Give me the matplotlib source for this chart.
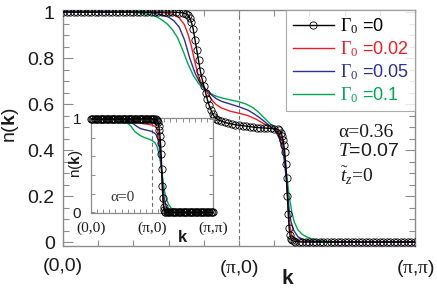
import matplotlib
matplotlib.use("Agg")
import matplotlib.pyplot as plt
from matplotlib.ticker import MultipleLocator

plt.rcParams['font.family'] = ['Liberation Sans', 'DejaVu Sans']
plt.rcParams['mathtext.fontset'] = 'custom'
plt.rcParams['mathtext.rm'] = 'Liberation Serif'
plt.rcParams['mathtext.it'] = 'Liberation Serif:italic'
plt.rcParams['mathtext.bf'] = 'Liberation Sans:bold'
plt.rcParams['mathtext.sf'] = 'Liberation Sans'

# ---------------- main panel data (alpha = 0.36) ----------------
k_black = [0.00, 0.02, 0.04, 0.06, 0.08, 0.10, 0.12, 0.14, 0.16, 0.18,
           0.20, 0.22, 0.24, 0.26, 0.28, 0.30, 0.32, 0.34, 0.36, 0.38,
           0.40, 0.42, 0.44, 0.46, 0.48, 0.50, 0.52, 0.54, 0.56, 0.58,
           0.60, 0.62, 0.64, 0.66, 0.68, 0.70, 0.71, 0.72, 0.73, 0.74,
           0.75, 0.76, 0.77, 0.78, 0.79, 0.80, 0.81, 0.82, 0.83, 0.84,
           0.85, 0.86, 0.87, 0.88, 0.90, 0.92, 0.94, 0.96, 0.98, 1.00,
           1.02, 1.04, 1.06, 1.08, 1.10, 1.12, 1.14, 1.16, 1.18, 1.20,
           1.22, 1.23, 1.24, 1.245, 1.25, 1.255, 1.26, 1.265, 1.27, 1.275,
           1.28, 1.285, 1.29, 1.295, 1.30, 1.31, 1.32, 1.34, 1.36, 1.38,
           1.40, 1.42, 1.44, 1.46, 1.48, 1.50, 1.52, 1.54, 1.56, 1.58,
           1.60, 1.62, 1.64, 1.66, 1.68, 1.70, 1.72, 1.74, 1.76, 1.78,
           1.80, 1.82, 1.84, 1.86, 1.88, 1.90, 1.92, 1.94, 1.96, 1.98, 2.00]
n_black = [1.0, 1.0, 1.0, 1.0, 1.0, 1.0, 1.0, 1.0, 1.0, 1.0,
           1.0, 1.0, 1.0, 1.0, 1.0, 1.0, 1.0, 1.0, 1.0, 1.0,
           1.0, 1.0, 1.0, 1.0, 1.0, 1.0, 1.0, 1.0, 1.0, 1.0,
           1.0, 1.0, 0.999, 0.998, 0.997, 0.993, 0.988, 0.975, 0.955, 0.925,
           0.88, 0.835, 0.79, 0.745, 0.71, 0.68, 0.65, 0.62, 0.595, 0.575,
           0.557, 0.545, 0.537, 0.532, 0.526, 0.52, 0.516, 0.513, 0.51, 0.508,
           0.506, 0.504, 0.502, 0.50, 0.498, 0.497, 0.496, 0.495, 0.494, 0.493,
           0.49, 0.485, 0.475, 0.46, 0.445, 0.42, 0.39, 0.34, 0.28, 0.20,
           0.12, 0.06, 0.03, 0.015, 0.008, 0.004, 0.002, 0.001, 0.0, 0.0,
           0.0, 0.0, 0.0, 0.0, 0.0, 0.0, 0.0, 0.0, 0.0, 0.0,
           0.0, 0.0, 0.0, 0.0, 0.0, 0.0, 0.0, 0.0, 0.0, 0.0,
           0.0, 0.0, 0.0, 0.0, 0.0, 0.0, 0.0, 0.0, 0.0, 0.0, 0.0]

k_red = [0.0, 0.50, 0.55, 0.60, 0.63, 0.66, 0.69, 0.71, 0.73, 0.75, 0.77, 0.79,
         0.81, 0.83, 0.85, 0.87, 0.90, 0.95, 1.00, 1.05, 1.10, 1.14, 1.18,
         1.21, 1.23, 1.245, 1.255, 1.265, 1.27, 1.275, 1.28, 1.285, 1.29,
         1.30, 1.31, 1.33, 1.36, 1.40, 2.0]
n_red = [1.0, 1.0, 0.998, 0.995, 0.988, 0.975, 0.945, 0.905, 0.85, 0.78, 0.72, 0.685,
         0.663, 0.637, 0.614, 0.598, 0.583, 0.569, 0.56, 0.55, 0.533, 0.515, 0.50,
         0.488, 0.47, 0.44, 0.40, 0.33, 0.27, 0.21, 0.15, 0.10, 0.065,
         0.03, 0.015, 0.006, 0.002, 0.0, 0.0]

k_blue = [0.0, 0.45, 0.50, 0.55, 0.60, 0.63, 0.66, 0.69, 0.72, 0.75, 0.78, 0.81,
          0.84, 0.87, 0.90, 0.95, 1.00, 1.05, 1.08, 1.11, 1.14, 1.17, 1.19,
          1.21, 1.23, 1.245, 1.255, 1.265, 1.275, 1.285, 1.295, 1.31, 1.335,
          1.36, 1.39, 1.45, 1.50, 2.0]
n_blue = [1.0, 1.0, 0.997, 0.99, 0.978, 0.962, 0.935, 0.88, 0.80, 0.735, 0.69, 0.665,
          0.642, 0.624, 0.612, 0.60, 0.588, 0.574, 0.56, 0.545, 0.527, 0.508, 0.495,
          0.478, 0.45, 0.41, 0.37, 0.30, 0.22, 0.14, 0.09, 0.052, 0.023,
          0.012, 0.006, 0.002, 0.0, 0.0]

k_green = [0.0, 0.35, 0.40, 0.45, 0.50, 0.53, 0.56, 0.59, 0.62, 0.65, 0.68, 0.71,
           0.74, 0.77, 0.80, 0.83, 0.86, 0.90, 0.95, 1.00, 1.04, 1.08, 1.11,
           1.14, 1.17, 1.20, 1.22, 1.24, 1.255, 1.27, 1.285, 1.30, 1.315,
           1.335, 1.36, 1.385, 1.42, 1.45, 1.50, 1.55, 1.60, 2.0]
n_green = [1.0, 1.0, 0.998, 0.995, 0.988, 0.98, 0.967, 0.95, 0.925, 0.89, 0.835, 0.775,
           0.725, 0.69, 0.667, 0.65, 0.637, 0.627, 0.618, 0.61, 0.60, 0.584, 0.565,
           0.542, 0.52, 0.498, 0.475, 0.43, 0.38, 0.30, 0.20, 0.13, 0.085,
           0.053, 0.033, 0.022, 0.012, 0.008, 0.003, 0.001, 0.0, 0.0]

# ---------------- inset data (alpha = 0) ----------------
k_in_black = [0.00, 0.02, 0.04, 0.06, 0.08, 0.10, 0.12, 0.14, 0.16, 0.18,
              0.20, 0.22, 0.24, 0.26, 0.28, 0.30, 0.32, 0.34, 0.36, 0.38,
              0.40, 0.42, 0.44, 0.46, 0.48, 0.50, 0.52, 0.54, 0.56, 0.58,
              0.60, 0.62, 0.64, 0.66, 0.68, 0.70, 0.72, 0.74, 0.76, 0.78,
              0.80, 0.82, 0.84, 0.86, 0.88, 0.90, 0.92, 0.94, 0.96, 0.98,
              1.00, 1.02, 1.04, 1.06, 1.08, 1.09, 1.10, 1.11, 1.12, 1.13,
              1.14, 1.15, 1.16, 1.17, 1.18, 1.19, 1.20, 1.21, 1.22, 1.24,
              1.26, 1.28, 1.30, 1.32, 1.34, 1.36, 1.38, 1.40, 1.42, 1.44,
              1.46, 1.48, 1.50, 1.52, 1.54, 1.56, 1.58, 1.60, 1.62, 1.64,
              1.66, 1.68, 1.70, 1.72, 1.74, 1.76, 1.78, 1.80, 1.82, 1.84,
              1.86, 1.88, 1.90, 1.92, 1.94, 1.96, 1.98, 2.00]
n_in_black = [1.0, 1.0, 1.0, 1.0, 1.0, 1.0, 1.0, 1.0, 1.0, 1.0,
              1.0, 1.0, 1.0, 1.0, 1.0, 1.0, 1.0, 1.0, 1.0, 1.0,
              1.0, 1.0, 1.0, 1.0, 1.0, 1.0, 1.0, 1.0, 1.0, 1.0,
              1.0, 1.0, 1.0, 1.0, 1.0, 1.0, 1.0, 1.0, 1.0, 1.0,
              1.0, 1.0, 1.0, 1.0, 1.0, 1.0, 1.0, 1.0, 1.0, 1.0,
              1.0, 0.999, 0.998, 0.996, 0.99, 0.98, 0.965, 0.93, 0.88, 0.82,
              0.74, 0.62, 0.46, 0.28, 0.15, 0.06, 0.025, 0.01, 0.003, 0.0,
              0.0, 0.0, 0.0, 0.0, 0.0, 0.0, 0.0, 0.0, 0.0, 0.0,
              0.0, 0.0, 0.0, 0.0, 0.0, 0.0, 0.0, 0.0, 0.0, 0.0,
              0.0, 0.0, 0.0, 0.0, 0.0, 0.0, 0.0, 0.0, 0.0, 0.0,
              0.0, 0.0, 0.0, 0.0, 0.0, 0.0, 0.0, 0.0]

k_in_red = [0.0, 0.55, 0.62, 0.70, 0.78, 0.85, 0.92, 1.00, 1.05, 1.08, 1.10,
            1.12, 1.135, 1.15, 1.16, 1.17, 1.18, 1.19, 1.21, 1.24, 1.28, 1.32, 2.0]
n_in_red = [1.0, 1.0, 0.995, 0.98, 0.96, 0.95, 0.945, 0.935, 0.92, 0.90, 0.86,
            0.78, 0.66, 0.53, 0.40, 0.26, 0.15, 0.08, 0.035, 0.012, 0.003, 0.0, 0.0]

k_in_blue = [0.0, 0.50, 0.58, 0.65, 0.72, 0.80, 0.88, 0.95, 1.00, 1.05, 1.08,
             1.10, 1.12, 1.14, 1.16, 1.18, 1.20, 1.23, 1.26, 1.30, 1.36, 1.42, 2.0]
n_in_blue = [1.0, 1.0, 0.99, 0.97, 0.935, 0.90, 0.885, 0.875, 0.865, 0.845, 0.82,
             0.78, 0.70, 0.58, 0.44, 0.27, 0.15, 0.07, 0.035, 0.015, 0.004, 0.0, 0.0]

k_in_green = [0.0, 0.42, 0.50, 0.58, 0.65, 0.72, 0.80, 0.88, 0.95, 1.00, 1.05,
              1.08, 1.11, 1.14, 1.17, 1.20, 1.23, 1.27, 1.31, 1.36, 1.42, 1.50,
              1.60, 2.0]
n_in_green = [1.0, 1.0, 0.99, 0.965, 0.925, 0.865, 0.825, 0.80, 0.785, 0.77, 0.745,
              0.71, 0.64, 0.53, 0.39, 0.25, 0.155, 0.09, 0.05, 0.025, 0.01, 0.003,
              0.0, 0.0]

labels = [r'$\Gamma_0$ =0', r'$\Gamma_0$ =0.02', r'$\Gamma_0$ =0.05', r'$\Gamma_0$ =0.1']
main_xticklabels = ['(0,0)', r'($\mathrm{\pi}$,0)', r'($\mathrm{\pi}$,$\mathrm{\pi}$)']
inset_xticklabels = ['(0,0)', '(\u03c0,0)', '(\u03c0,\u03c0)']

c_black = 'black'
c_red = '#f01c24'
c_blue = '#2e3192'
c_green = '#00a651'
spine_c = '#8c8c8c'

fig = plt.figure(figsize=(4.37, 2.97), dpi=100)
ax = fig.add_axes([63/437, 1 - 245.7/297, 352/437, 235.7/297])

ax.axvline(1.0, color='#707070', lw=0.8, ls=(0, (3.5, 2.5)), zorder=1)
ax.plot(k_black, n_black, color=c_black, lw=1.0, marker='o', ms=5.2,
        mfc='none', mec=c_black, mew=0.6, label=labels[0], zorder=5)
ax.plot(k_red, n_red, color=c_red, lw=1.0, label=labels[1], zorder=4)
ax.plot(k_blue, n_blue, color=c_blue, lw=1.0, label=labels[2], zorder=4)
ax.plot(k_green, n_green, color=c_green, lw=1.0, label=labels[3], zorder=3)

ax.set_xlim(0, 2)
ax.set_ylim(-0.016, 1.009)
ax.set_xticks([0, 1, 2])
ax.set_xticklabels(main_xticklabels)
ax.xaxis.set_minor_locator(MultipleLocator(0.2))
ax.set_yticks([0, 0.2, 0.4, 0.6, 0.8, 1.0])
ax.set_yticklabels(['0', '0.2', '0.4', '0.6', '0.8', '1'])
ax.yaxis.set_minor_locator(MultipleLocator(0.05))
ax.tick_params(axis='both', which='both', direction='in', top=True, right=True,
               color=spine_c, width=0.8, labelsize=14, labelcolor='#1a1a1a')
ax.tick_params(axis='y', which='major', length=7, pad=6)
ax.tick_params(axis='y', which='minor', length=4)
ax.tick_params(axis='x', which='major', length=4, pad=9)
ax.tick_params(axis='x', which='minor', length=4)
for s in ax.spines.values():
    s.set_color(spine_c)
    s.set_linewidth(1.0)

ax.text(-0.148, 0.51, r'n($\mathbf{k}$)', transform=ax.transAxes, fontsize=14,
        rotation=90, ha='center', va='center', color='#1a1a1a')
ax.text(0.636, -0.14, 'k', transform=ax.transAxes, fontsize=15, fontweight='bold',
        ha='center', va='center', color='#1a1a1a')

leg = ax.legend(loc='upper right', bbox_to_anchor=(1.0, 1.0), borderaxespad=0,
                fontsize=13, frameon=True, fancybox=False, numpoints=1,
                handlelength=2.3, handletextpad=0.3, labelspacing=0.18,
                borderpad=0.35)
leg.get_frame().set_edgecolor('#999999')
leg.get_frame().set_linewidth(0.8)
for t, c in zip(leg.get_texts(), [c_black, c_red, c_blue, c_green]):
    t.set_color(c)

ax.text(0.781, 0.48, '\u03b1=0.36', transform=ax.transAxes, fontsize=14,
        family='Liberation Serif', ha='left', va='center', color='#1a1a1a')
ax.text(0.781, 0.398, r'$T$=0.07', transform=ax.transAxes, fontsize=14,
        ha='left', va='center', color='#1a1a1a')
ax.text(0.787, 0.295, r'$\tilde{t}_z$=0', transform=ax.transAxes, fontsize=14,
        family='Liberation Serif', ha='left', va='center', color='#1a1a1a')

# ---------------- inset ----------------
axi = fig.add_axes([91/437, 1 - 213.3/297, 122/437, 94.8/297])
axi.axvline(1.0, color='#707070', lw=0.8, ls=(0, (3.5, 2.5)), zorder=1)
axi.plot(k_in_black, n_in_black, color=c_black, lw=1.0, marker='o', ms=5.2,
         mfc='none', mec=c_black, mew=0.6, zorder=5, clip_on=False)
axi.plot(k_in_red, n_in_red, color=c_red, lw=1.0, zorder=4)
axi.plot(k_in_blue, n_in_blue, color=c_blue, lw=1.0, zorder=4)
axi.plot(k_in_green, n_in_green, color=c_green, lw=1.0, zorder=3)
axi.set_xlim(0, 2)
axi.set_ylim(-0.009, 1.005)
axi.set_xticks([0, 1, 2])
axi.set_xticklabels(inset_xticklabels, family='Liberation Serif')
axi.xaxis.set_minor_locator(MultipleLocator(0.1))
axi.set_yticks([0, 1])
axi.set_yticklabels(['0', '1'])
axi.yaxis.set_minor_locator(MultipleLocator(0.2))
axi.tick_params(axis='both', which='both', direction='in', top=True, right=True,
                color=spine_c, width=0.7, labelsize=11, labelcolor='#1a1a1a',
                length=3)
axi.tick_params(axis='x', which='major', pad=6)
axi.tick_params(axis='y', which='major', pad=7)
for s in axi.spines.values():
    s.set_color(spine_c)
    s.set_linewidth(0.9)
axi.text(-0.12, 0.52, r'n($\mathbf{k}$)', transform=axi.transAxes, fontsize=11,
         rotation=90, ha='center', va='center', color='#1a1a1a')
axi.text(0.746, -0.25, 'k', transform=axi.transAxes, fontsize=12, fontweight='bold',
         ha='center', va='center', color='#1a1a1a')
axi.text(0.156, 0.17, '\u03b1=0', transform=axi.transAxes, fontsize=11,
         family='Liberation Serif', ha='left', va='center', color='#333333')

fig.savefig('out.png', dpi=100)
